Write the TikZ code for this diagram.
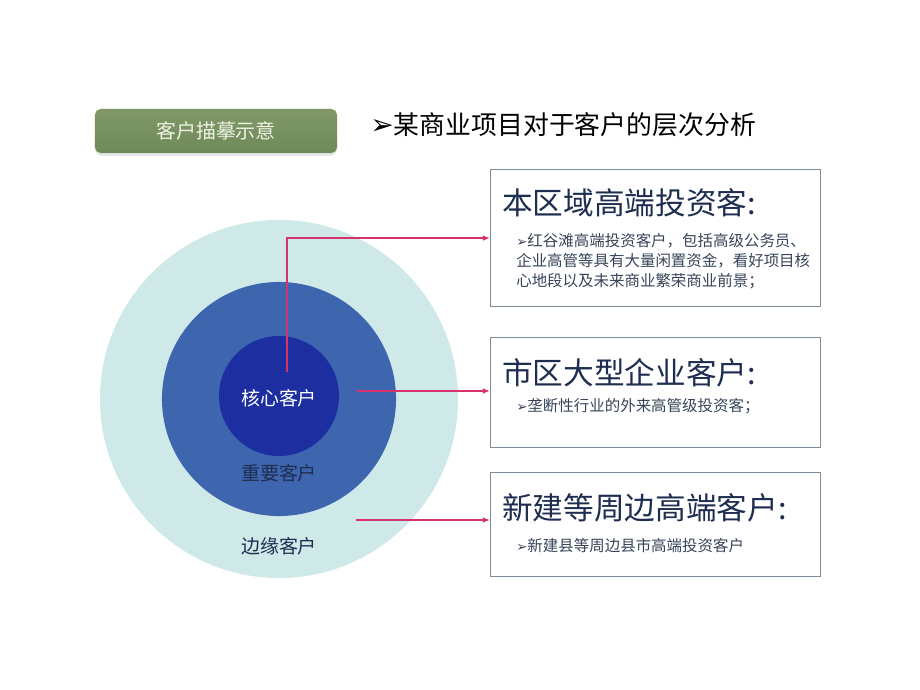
\documentclass[tikz,border=0pt]{standalone}
\usepackage{fontspec}
\setmainfont{Noto Sans CJK SC}
\newfontfamily\symf{DejaVu Sans}
\usetikzlibrary{positioning,shadows,arrows.meta}
\definecolor{ringout}{RGB}{207,232,232}
\definecolor{ringmid}{RGB}{62,102,175}
\definecolor{ringin}{RGB}{28,46,160}
\definecolor{btngreen}{RGB}{110,138,88}
\definecolor{btnlight}{RGB}{128,152,104}
\definecolor{btntext}{RGB}{240,242,228}
\definecolor{boxline}{RGB}{125,138,152}
\definecolor{headblue}{RGB}{30,45,80}
\definecolor{textgray}{RGB}{55,68,88}
\definecolor{linkred}{RGB}{214,51,108}
\newcommand{\pointer}{{\symf ➢}}
\newcommand{\bulletmark}{{\fontsize{9.5}{9.5}\pointer}}
\tikzset{
  ring/.style={circle,inner sep=0pt},
  ringlabel/.style={inner sep=0pt,font=\fontsize{13.5}{16}\selectfont},
  infobox/.style={draw=boxline,line width=0.8pt,minimum width=8.25cm,anchor=north west,inner sep=0pt},
  boxhead/.style={anchor=west,inner sep=0pt,text=headblue,font=\fontsize{21.8}{24}\selectfont},
  boxtext/.style={anchor=base west,inner sep=0pt,align=left,text=textgray,font=\fontsize{11}{14.2}\selectfont},
  link/.style={draw=linkred,line width=1pt,-{Latex[length=5pt,width=4pt]}}
}
\begin{document}
\begin{tikzpicture}[x=0.025cm,y=-0.025cm]
	\useasboundingbox (0,0) rectangle (920,690);
	\node[rounded corners=4pt,minimum width=6.05cm,minimum height=1.1cm,top color=btnlight,bottom color=btngreen,
		drop shadow={shadow xshift=0pt,shadow yshift=-2pt,fill=gray!35},text=btntext,font=\fontsize{14.2}{16}\selectfont] (tag) at (216,131) {客户描摹示意};
	\node[anchor=west,inner sep=0pt,font=\fontsize{18.4}{20}\selectfont] (headline) at (370,125) {{\fontsize{20}{20}\pointer}某商业项目对于客户的层次分析};

	\node[ring,fill=ringout,minimum size=8.95cm] (outer) at (279,399) {};
	\node[ring,fill=ringmid,minimum size=5.85cm] (middle) at (279,399) {};
	\node[ring,fill=ringin,minimum size=3cm] (inner) at (279,396) {};
	\node[ringlabel,text=white] (core) at (279,398) {核心客户};
	\node[ringlabel,text=headblue] (key) at (279,473) {重要客户};
	\node[ringlabel,text=headblue] (edge) at (279,546) {边缘客户};

	\node[infobox,minimum height=3.425cm] (b1) at (490,169) {};
	\node[infobox,minimum height=2.75cm] (b2) at (490,337) {};
	\node[infobox,minimum height=2.6cm] (b3) at (490,472) {};
	\node[boxhead] (h1) at (502,203) {本区域高端投资客:};
	\node[boxhead] (h2) at (502,373) {市区大型企业客户:};
	\node[boxhead] (h3) at (502,508) {新建等周边高端客户:};
	\node[boxtext] (t1) at (516,286) {\bulletmark 红谷滩高端投资客户，包括高级公务员、\\企业高管等具有大量闲置资金，看好项目核\\心地段以及未来商业繁荣商业前景；};
	\node[boxtext] (t2) at (516,411) {\bulletmark 垄断性行业的外来高管级投资客；};
	\node[boxtext] (t3) at (516,551) {\bulletmark 新建县等周边县市高端投资客户};

	\coordinate (s1) at (287,372);
	\coordinate (s2) at (357,391);
	\coordinate (s3) at (356,520);
	\draw[link] (s1) |- (b1);
	\draw[link] (s2) -- (s2 -| b2.west);
	\draw[link] (s3) -- (s3 -| b3.west);
\end{tikzpicture}
\end{document}
